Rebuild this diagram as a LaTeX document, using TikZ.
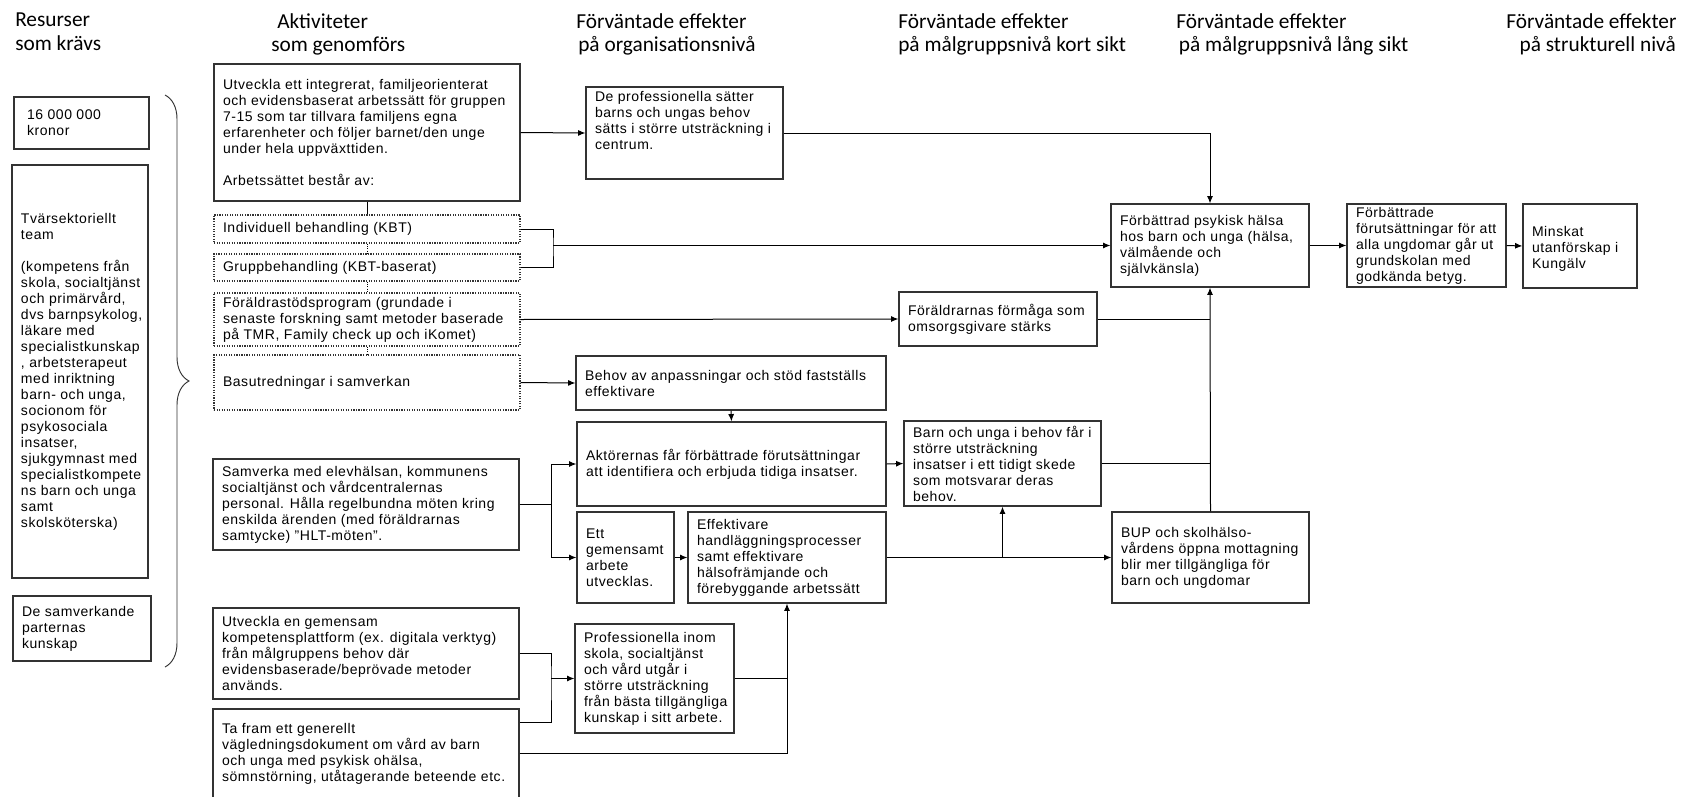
\documentclass[tikz,border=0pt]{standalone}
\usepackage{fontspec}
\setmainfont{Liberation Sans}[LetterSpace=4]
\newfontfamily\rubrikfont{Carlito}
\usetikzlibrary{arrows.meta,fit,decorations.pathreplacing}

\tikzset{
  ruta/.style={draw=black!80,line width=0.9pt,inner sep=0pt},
  prickad/.style={densely dotted},
  rutatext/.style={inner xsep=7pt,inner ysep=0pt,align=left,
    font=\fontsize{10.5}{12}\selectfont},
  rubrik/.style={anchor=north west,inner sep=0pt,align=left,
    font=\rubrikfont\fontsize{16}{17.6}\selectfont},
  linje/.style={line width=0.75pt},
  pil/.style={linje,-{Latex[length=5.5pt,width=4.5pt]}},
}
% ruta: [stil]{namn}{x1}{y1}{x2}{y2}{text}
\newcommand{\ruta}[7][]{%
  \node[ruta,#1,fit={(#3,#4) (#5,#6)}] (#2) {};
  \node[rutatext,anchor=west] (#2-text) at (#2.west) {#7};}

\begin{document}
\begin{tikzpicture}[x=0.75pt,y=-0.75pt]
  \useasboundingbox (0,0) rectangle (1684,796);

  % rubriker
  \node[rubrik] (h-resurser) at (15,13) {Resurser\\som krävs};
  \node[rubrik] (h-aktiviteter) at (271,13) {\hspace*{4.5pt}Aktiviteter\\som genomförs};
  \node[rubrik] (h-org) at (576,13) {Förväntade effekter\\\hspace*{1.5pt}på organisationsnivå};
  \node[rubrik] (h-kort) at (898,13) {Förväntade effekter\\på målgruppsnivå kort sikt};
  \node[rubrik] (h-lang) at (1176,13) {Förväntade effekter\\\hspace*{2pt}på målgruppsnivå lång sikt};
  \node[rubrik] (h-struktur) at (1506,13) {Förväntade effekter\\\hspace*{10pt}på strukturell nivå};

  % resurser
  \ruta{kronor}{14}{97}{149}{149}{\hspace*{3pt}16 000 000\\\hspace*{3pt}kronor}
  \ruta{team}{12}{165}{148}{578}{Tvärsektoriellt\\team\\[12pt](kompetens från\\skola, socialtjänst\\och primärvård,\\dvs barnpsykolog,\\läkare med\\specialistkunskap\\, arbetsterapeut\\med inriktning\\barn- och unga,\\socionom för\\psykosociala\\insatser,\\sjukgymnast med\\specialistkompete\\ns barn och unga\\samt\\skolsköterska)}
  \ruta{samverk}{13}{596}{151}{661}{De samverkande\\parternas\\kunskap}
  \coordinate (klammer-topp) at (165,95);
  \coordinate (klammer-botten) at (165,667);
  \draw[line width=0.7pt,draw=black!80,decorate,decoration={brace,amplitude=18pt}]
    (klammer-topp) -- (klammer-botten);

  % aktiviteter
  \ruta{utv1}{214}{64}{520}{201}{Utveckla ett integrerat, familjeorienterat\\och evidensbaserat arbetssätt för gruppen\\7-15 som tar tillvara familjens egna\\erfarenheter och följer barnet/den unge\\under hela uppväxttiden.\\[12pt]Arbetssättet består av:}
  \ruta[prickad]{ind}{214}{215}{520}{243}{Individuell behandling (KBT)}
  \ruta[prickad]{grupp}{214}{254}{520}{281}{Gruppbehandling (KBT-baserat)}
  \ruta[prickad]{foral}{214}{293}{520}{346}{Föräldrastödsprogram (grundade i\\senaste forskning samt metoder baserade\\på TMR, Family check up och iKomet)}
  \ruta[prickad]{bas}{214}{355}{520}{410}{Basutredningar i samverkan}
  \ruta{samv}{213}{459}{519}{550}{Samverka med elevhälsan, kommunens\\socialtjänst och vårdcentralernas\\personal. Hålla regelbundna möten kring\\enskilda ärenden (med föräldrarnas\\samtycke) ”HLT-möten”.}
  \ruta{utv2}{213}{608}{519}{699}{Utveckla en gemensam\\kompetensplattform (ex. digitala verktyg)\\från målgruppens behov där\\evidensbaserade/beprövade metoder\\används.}
  \ruta{ta}{213}{709}{519}{798}{Ta fram ett generellt\\vägledningsdokument om vård av barn\\och unga med psykisk ohälsa,\\sömnstörning, utåtagerande beteende etc.}

  % effekter
  \ruta{prof}{586}{87}{783}{179}{De professionella sätter\\barns och ungas behov\\sätts i större utsträckning i\\centrum.\\[7pt]}
  \ruta{forma}{899}{292}{1097}{346}{Föräldrarnas förmåga som\\omsorgsgivare stärks}
  \ruta{behov}{576}{356}{886}{410}{Behov av anpassningar och stöd fastställs\\effektivare}
  \ruta{akt}{577}{422}{886}{506}{Aktörernas får förbättrade förutsättningar\\att identifiera och erbjuda tidiga insatser.}
  \ruta{barn}{904}{421}{1101}{506}{Barn och unga i behov får i\\större utsträckning\\insatser i ett tidigt skede\\som motsvarar deras\\behov.}
  \ruta{ett}{577}{512}{674}{603}{Ett\\gemensamt\\arbete\\utvecklas.}
  \ruta{eff}{688}{512}{886}{603}{Effektivare\\handläggningsprocesser\\samt effektivare\\hälsofrämjande och\\förebyggande arbetssätt}
  \ruta{prof2}{575}{624}{734}{733}{Professionella inom\\skola, socialtjänst\\och vård utgår i\\större utsträckning\\från bästa tillgängliga\\kunskap i sitt arbete.}
  \ruta{halsa}{1111}{204}{1309}{287}{Förbättrad psykisk hälsa\\hos barn och unga (hälsa,\\välmående och\\självkänsla)}
  \ruta{bup}{1112}{512}{1309}{603}{BUP och skolhälso-\\vårdens öppna mottagning\\blir mer tillgängliga för\\barn och ungdomar}
  \ruta{forb}{1347}{204}{1506}{287}{Förbättrade\\förutsättningar för att\\alla ungdomar går ut\\grundskolan med\\godkända betyg.}
  \ruta{minsk}{1523}{204}{1637}{288}{\mbox{}\\Minskat\\utanförskap i\\Kungälv}

  % kopplingar
  \coordinate (kbt) at (553,0);
  \coordinate (delning) at (551,0);
  \coordinate (ta1) at ([yshift=-10.5pt]ta.north east);
  \draw[linje] (utv1.south) -- (ind.north);
  \draw[linje,prickad] (ind.south) -- (grupp.north);
  \draw[linje,prickad] (grupp.south) -- (foral.north);
  \draw[linje,prickad] (foral.south) -- (bas.north);
  \draw[pil] (utv1.east) -- (prof.west);
  \draw[pil] (prof.east) -| (halsa.north);
  \draw[linje] (ind.east) -| (kbt |- halsa.west) |- (grupp.east);
  \draw[pil] (kbt |- halsa.west) -- (halsa.west);
  \draw[pil] (foral.east) -- (forma.west);
  \draw[linje] (forma.east) -- (forma.east -| halsa.south);
  \draw[pil] (bas.east) -- (behov.west);
  \draw[pil] (behov.south) -- (akt.north);
  \draw[pil] (akt.east) -- (barn.west);
  \draw[linje] (barn.east) -- (barn.east -| halsa.south);
  \draw[pil] (bup.north) -- (halsa.south);
  \draw[linje] (samv.east) -- (samv.east -| delning);
  \draw[pil] (samv.east -| delning) |- (akt.west);
  \draw[pil] (samv.east -| delning) |- (ett.west);
  \draw[pil] (ett.east) -- (eff.west);
  \draw[pil] (eff.east) -- (bup.west);
  \draw[pil] (eff.east -| barn.south) -- (barn.south);
  \draw[linje] (utv2.east) -| (prof2.west -| delning) |- (ta1);
  \draw[pil] (prof2.west -| delning) -- (prof2.west);
  \draw[linje] (prof2.east) -- (prof2.east -| eff.south);
  \draw[pil] (ta.east) -| (eff.south);
  \draw[pil] (halsa.east) -- (forb.west);
  \draw[pil] (forb.east) -- (minsk.west);
\end{tikzpicture}
\end{document}
